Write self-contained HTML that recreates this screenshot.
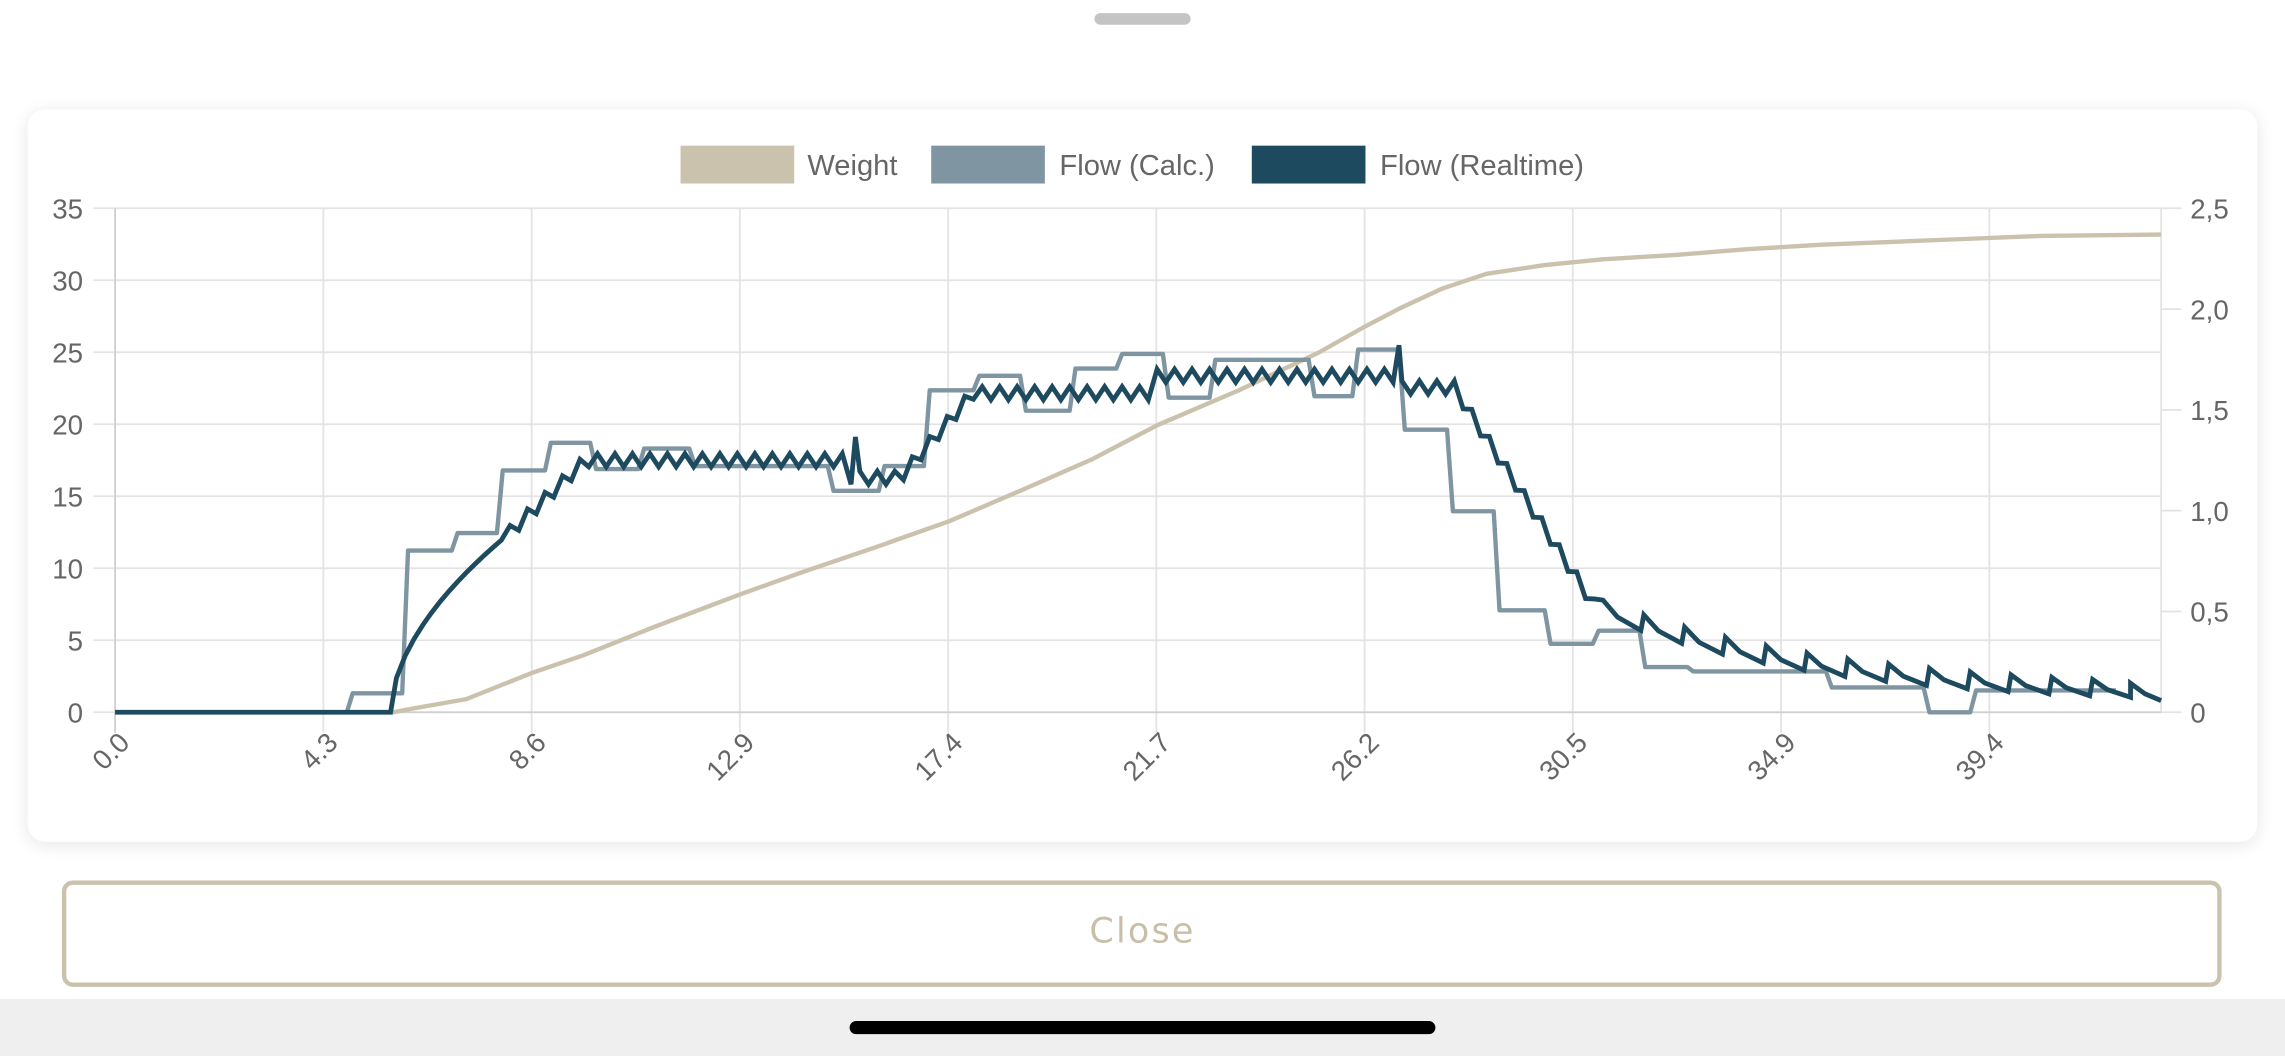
<!DOCTYPE html>
<html><head><meta charset="utf-8"><style>
html,body{margin:0;padding:0;width:2285px;height:1056px;overflow:hidden;background:#fff;font-family:"Liberation Sans",sans-serif}
svg{display:block}
</style></head><body>
<svg id="s" width="2285" height="1056" viewBox="0 0 1568 725" preserveAspectRatio="none">
<defs><filter id="sh" x="-5%" y="-10%" width="110%" height="120%"><feGaussianBlur stdDeviation="6"/></filter></defs>
<rect x="0" y="0" width="1568" height="725" fill="#fff"/>
<rect x="751" y="9" width="66" height="8" rx="4" fill="#c4c4c4"/>
<rect x="19" y="77" width="1530" height="503" rx="12" fill="#000" opacity="0.10" filter="url(#sh)"/>
<rect x="19" y="75" width="1530" height="503" rx="12" fill="#fff"/>
<g id="grid" stroke="#e3e3e3" stroke-width="1.2"></g>
<g id="lbl" font-family="Liberation Sans, sans-serif" font-size="19" fill="#666"></g>
<rect x="467" y="100" width="78" height="26" fill="#cbc2ad"/>
<text x="554" y="120" font-size="20" fill="#666" font-family="Liberation Sans, sans-serif">Weight</text>
<rect x="639" y="100" width="78" height="26" fill="#7f96a2"/>
<text x="727" y="120" font-size="20" fill="#666" font-family="Liberation Sans, sans-serif">Flow (Calc.)</text>
<rect x="859" y="100" width="78" height="26" fill="#1e4a5f"/>
<text x="947" y="120" font-size="20" fill="#666" font-family="Liberation Sans, sans-serif">Flow (Realtime)</text>
<path id="w" fill="none" stroke="#cbc2ad" stroke-width="3" stroke-linejoin="round"/>
<path id="c" fill="none" stroke="#7f96a2" stroke-width="3" stroke-linejoin="round"/>
<path id="r" fill="none" stroke="#1e4a5f" stroke-width="3.3" stroke-linejoin="miter" stroke-miterlimit="4"/>
<rect x="44" y="606" width="1479" height="70" rx="6" fill="#fff" stroke="#cbc2ad" stroke-width="3"/>
<text x="784" y="647" text-anchor="middle" font-size="24" fill="#c9bfa9" letter-spacing="1.5" font-family="DejaVu Sans, sans-serif">Close</text>
<rect x="0" y="686" width="1568" height="39" fill="#efefef"/>
<rect x="583" y="701" width="402" height="9" rx="4.5" fill="#000"/>
</svg>
<script>
var L=79,R=1483,T=143,B=489;
var g=document.getElementById('grid'),lb=document.getElementById('lbl'),NS='http://www.w3.org/2000/svg';
function el(p,t,a,txt){var e=document.createElementNS(NS,t);for(var k in a)e.setAttribute(k,a[k]);if(txt!=null)e.textContent=txt;p.appendChild(e);return e;}
for(var i=0;i<=7;i++){var y=B-(B-T)*i/7;el(g,'line',{x1:L-15,x2:R,y1:y,y2:y});el(lb,'text',{x:57,y:y+7,'text-anchor':'end'},String(i*5));}
var rl=['0','0,5','1,0','1,5','2,0','2,5'];
for(var i=0;i<=5;i++){var y=B-(B-T)*i/5;el(g,'line',{x1:R,x2:R+14,y1:y,y2:y});el(lb,'text',{x:1503,y:y+7},rl[i]);}
var xl=['0.0','4.3','8.6','12.9','17.4','21.7','26.2','30.5','34.9','39.4'];
for(var i=0;i<10;i++){var x=L+i*142.9;el(g,'line',{x1:x,x2:x,y1:T,y2:B+14});el(lb,'text',{x:x+11,y:511,'text-anchor':'end',transform:'rotate(-45 '+(x+11)+' 511)'},xl[i]);}
el(g,'line',{x1:R,x2:R,y1:T,y2:B});
el(g,'line',{x1:L,x2:R,y1:B,y2:B,stroke:'#d0d0d0'});
el(g,'line',{x1:L,x2:L,y1:T,y2:B+14,stroke:'#d0d0d0'});
var wp=[[79,489],[270,489],[280,487],[320,480],[365,462],[400,450],[450,430],[508,408],[550,393],[600,376],[651,358],[700,337],[750,315],[794,292],[850,268],[905,242],[937,224],[960,212],[990,198],[1020,188],[1060,182],[1100,178],[1150,175],[1200,171],[1250,168],[1300,166],[1350,164],[1400,162],[1483,161]];
document.getElementById('w').setAttribute('d','M'+wp.map(function(p){return p.join(',')}).join('L'));
var cs=[[79,489],[240,476],[278,378],[312,366],[343,323],[376,304],[407,322],[440,308],[475,320],[570,337],[605,320],[636,268],[670,258],[702,282],[736,253],[768,243],[800,273],[832,247],[900,272],[930,240],[962,295],[995,351],[1027,419],[1062,442],[1095,433],[1127,458],[1160,461],[1255,472],[1322,489],[1354,474],[1450,474]];
var d='M79,489';for(var i=1;i<cs.length;i++){var px=cs[i][0];d+='L'+(px-2)+','+cs[i-1][1]+'L'+(px+2)+','+cs[i][1];}
document.getElementById('c').setAttribute('d',d);
function base(x){
 if(x<268)return 489;
 if(x<345)return 489-119*Math.pow((x-268)/77,0.55);
 if(x<400)return 370-52*(x-345)/55;
 if(x<580)return 316;
 if(x<620)return 328;
 if(x<672)return 325-60*(x-620)/52;
 if(x<790)return 270;
 if(x<960)return 258;
 if(x<1000)return 266;
 if(x<1100)return 270+155*(x-1000)/100;
 return 480-55*Math.exp(-(x-1100)/150);
}
var rp=[[79,489],[268,489]];
for(var x=272;x<1100;x+=6){var a=(x<345)?0:4.5;var s=((x/6|0)%2)?1:-1;rp.push([x,base(x)+s*a]);if(x>=584&&x<590)rp.push([587,300]);if(x>=956&&x<962)rp.push([960,237]);}
for(var x=1100;x<1460;x+=28){var amp=8*Math.exp(-(x-1100)/300)+5;rp.push([x,base(x)-amp]);rp.push([x+10,base(x)-amp*0.1]);rp.push([x+26,base(x)+amp*0.6]);}
rp.push([1462,base(1462)-6]);rp.push([1472,base(1472)+1]);rp.push([1483,481]);
document.getElementById('r').setAttribute('d','M'+rp.map(function(p){return p[0].toFixed(1)+','+p[1].toFixed(1)}).join('L'));
</script>
</body></html>
